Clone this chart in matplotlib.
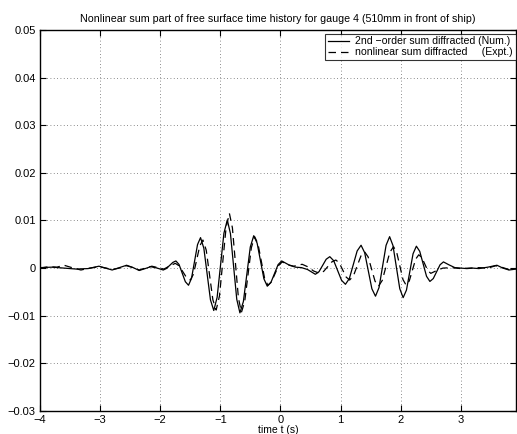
import numpy as np
import matplotlib.pyplot as plt

plt.rcParams['font.family'] = ['Liberation Sans', 'DejaVu Sans']

# 2nd-order sum diffracted (numerical)
t_num = [-4.0, -3.8, -3.6, -3.4, -3.2, -3.02, -2.91, -2.8, -2.68, -2.56, -2.45, -2.35,
         -2.25, -2.16, -2.05, -1.95, -1.9, -1.845, -1.79, -1.74,
         -1.6875, -1.635, -1.5825, -1.53,
         -1.48, -1.43, -1.38, -1.33,
         -1.275, -1.22, -1.165, -1.11,
         -1.054, -0.9975, -0.941, -0.885,
         -0.8325, -0.78, -0.7275, -0.675,
         -0.6175, -0.56, -0.5025, -0.445,
         -0.389, -0.3325, -0.276, -0.22,
         -0.16, -0.10, -0.04, 0.02,
         0.15, 0.25, 0.35, 0.45, 0.58,
         0.64, 0.70, 0.76, 0.82,
         0.885, 0.95, 1.015, 1.08,
         1.145, 1.21, 1.275, 1.34,
         1.40, 1.46, 1.52, 1.58,
         1.639, 1.6975, 1.756, 1.815,
         1.871, 1.9275, 1.984, 2.04,
         2.095, 2.15, 2.205, 2.26,
         2.316, 2.3725, 2.429, 2.485,
         2.541, 2.5975, 2.654, 2.71,
         2.8, 2.9, 3.0, 3.1, 3.2, 3.3, 3.45, 3.6, 3.7, 3.8, 3.92]
y_num = [0.0001, 0.0002, 0.0, -0.0002, -0.0001, 0.0004, 0.0, -0.0004, 0.0001, 0.0006, 0.0001, -0.0005,
         -0.0001, 0.0003, 0.0, -0.0004, -0.0001, 0.00055, 0.0012, 0.0015,
         0.00076, -0.00105, -0.00286, -0.0036,
         -0.00214, 0.0014, 0.00494, 0.0064,
         0.00417, -0.00125, -0.00667, -0.0089,
         -0.00613, 0.0006, 0.00733, 0.0101,
         0.00725, 0.00035, -0.00655, -0.0094,
         -0.00703, -0.0013, 0.00443, 0.0068,
         0.00525, 0.0015, -0.00225, -0.0038,
         -0.00303, -0.00115, 0.00073, 0.0015,
         0.0006, 0.0002, 0.0001, -0.0003, -0.0013,
         -0.00076, 0.00055, 0.00186, 0.0024,
         0.00155, -0.0005, -0.00255, -0.0034,
         -0.0022, 0.0007, 0.0036, 0.0048,
         0.00324, -0.00055, -0.00434, -0.0059,
         -0.00408, 0.00035, 0.00478, 0.0066,
         0.00473, 0.0002, -0.00433, -0.0062,
         -0.00462, -0.0008, 0.00302, 0.0046,
         0.00352, 0.0009, -0.00172, -0.0028,
         -0.0022, -0.00075, 0.0007, 0.0013,
         0.0007, 0.0001, 0.0, -0.0001, 0.0, -0.0001, 0.0002, 0.0006, 0.0, -0.0004, -0.0002]

# nonlinear sum diffracted (experiment)
t_exp = [-4.0, -3.85, -3.72, -3.6, -3.47, -3.32, -3.17, -3.02, -2.9, -2.8, -2.68, -2.56,
         -2.45, -2.35, -2.25, -2.14, -2.04, -1.94, -1.85, -1.75,
         -1.6875, -1.625, -1.5625, -1.5,
         -1.4475, -1.395, -1.3425, -1.29,
         -1.235, -1.18, -1.125, -1.07,
         -1.015, -0.96, -0.905, -0.85,
         -0.80, -0.75, -0.70, -0.65,
         -0.595, -0.54, -0.485, -0.43,
         -0.375, -0.32, -0.265, -0.21,
         -0.15, -0.09, -0.03, 0.03,
         0.12, 0.22, 0.36, 0.45, 0.55, 0.65,
         0.7175, 0.785, 0.8525, 0.92,
         0.9775, 1.035, 1.0925, 1.15,
         1.2125, 1.275, 1.3375, 1.40,
         1.4575, 1.515, 1.5725, 1.63,
         1.6925, 1.755, 1.8175, 1.88,
         1.9325, 1.985, 2.0375, 2.09,
         2.1425, 2.195, 2.2475, 2.30,
         2.35, 2.40, 2.45, 2.50,
         2.6, 2.7, 2.85, 3.0, 3.15, 3.3, 3.45, 3.58, 3.7, 3.8, 3.92]
y_exp = [0.0, 0.0003, 0.0002, 0.0006, 0.0001, -0.0004, 0.0, 0.0003, 0.0, -0.0003, 0.0, 0.0005,
         0.0001, -0.0004, 0.0, 0.0004, 0.0001, -0.0002, 0.0004, 0.0010,
         0.00049, -0.00075, -0.00199, -0.0025,
         -0.00127, 0.0017, 0.00467, 0.0059,
         0.00375, -0.00145, -0.00665, -0.0088,
         -0.00584, 0.00135, 0.00854, 0.0115,
         0.00846, 0.0011, -0.00626, -0.0093,
         -0.00698, -0.00135, 0.00428, 0.0066,
         0.00511, 0.0015, -0.00211, -0.0036,
         -0.00288, -0.00115, 0.00058, 0.0013,
         0.0007, 0.0004, 0.0008, 0.0003, -0.0006, -0.0011,
         -0.00069, 0.0003, 0.00129, 0.0017,
         0.00109, -0.0004, -0.00189, -0.0025,
         -0.00164, 0.00045, 0.00254, 0.0034,
         0.00235, -0.0002, -0.00275, -0.0038,
         -0.00259, 0.00035, 0.00329, 0.0045,
         0.00332, 0.00045, -0.00242, -0.0036,
         -0.00267, -0.0004, 0.00187, 0.0028,
         0.00223, 0.00085, -0.00053, -0.0011,
         -0.0005, 0.0, 0.0001, -0.0001, 0.0, 0.0001, 0.0, 0.0005, 0.0001, -0.0003, -0.0001]

xticks = [-4, -3, -2, -1, 0, 1, 2, 3]
yticks = [-0.03, -0.02, -0.01, 0, 0.01, 0.02, 0.03, 0.04, 0.05]
ytick_labels = ['\u22120.03', '\u22120.02', '\u22120.01', '0', '0.01', '0.02', '0.03', '0.04', '0.05']
xtick_labels = ['\u22124', '\u22123', '\u22122', '\u22121', '0', '1', '2', '3']

fig = plt.figure(figsize=(5.17, 4.34), dpi=100)
ax = fig.add_axes([0.0774, 0.053, 0.921, 0.878])

ax.plot(t_num, y_num, color='black', lw=0.9, label='2nd \u2212order sum diffracted (Num.)')
ax.plot(t_exp, y_exp, color='black', lw=0.9, ls=(0, (6, 4)),
        label='nonlinear sum diffracted     (Expt.)')

ax.set_xlim(-4, 3.92)
ax.set_ylim(-0.03, 0.05)
ax.set_xticks(xticks)
ax.set_xticklabels(xtick_labels)
ax.set_yticks(yticks)
ax.set_yticklabels(ytick_labels)
ax.tick_params(direction='in', length=4, width=0.8, labelsize=8, top=True, right=True, pad=3)
ax.grid(True, ls=(0, (1, 3)), color='black', lw=0.6, alpha=0.6)
for s in ax.spines.values():
    s.set_linewidth(1.0)

ax.set_title('Nonlinear sum part of free surface time history for gauge 4 (510mm in front of ship)',
             fontsize=7.7, pad=6)
ax.set_xlabel('time t (s)', fontsize=7.5, labelpad=0)

leg = ax.legend(loc='upper right', fontsize=7.6, frameon=True, fancybox=False,
                edgecolor='black', handlelength=2.0, handletextpad=0.6,
                borderpad=0.25, labelspacing=0.1, borderaxespad=0.0,
                bbox_to_anchor=(0.999, 0.99))
leg.get_frame().set_linewidth(0.8)

fig.savefig('out.png', dpi=100)
